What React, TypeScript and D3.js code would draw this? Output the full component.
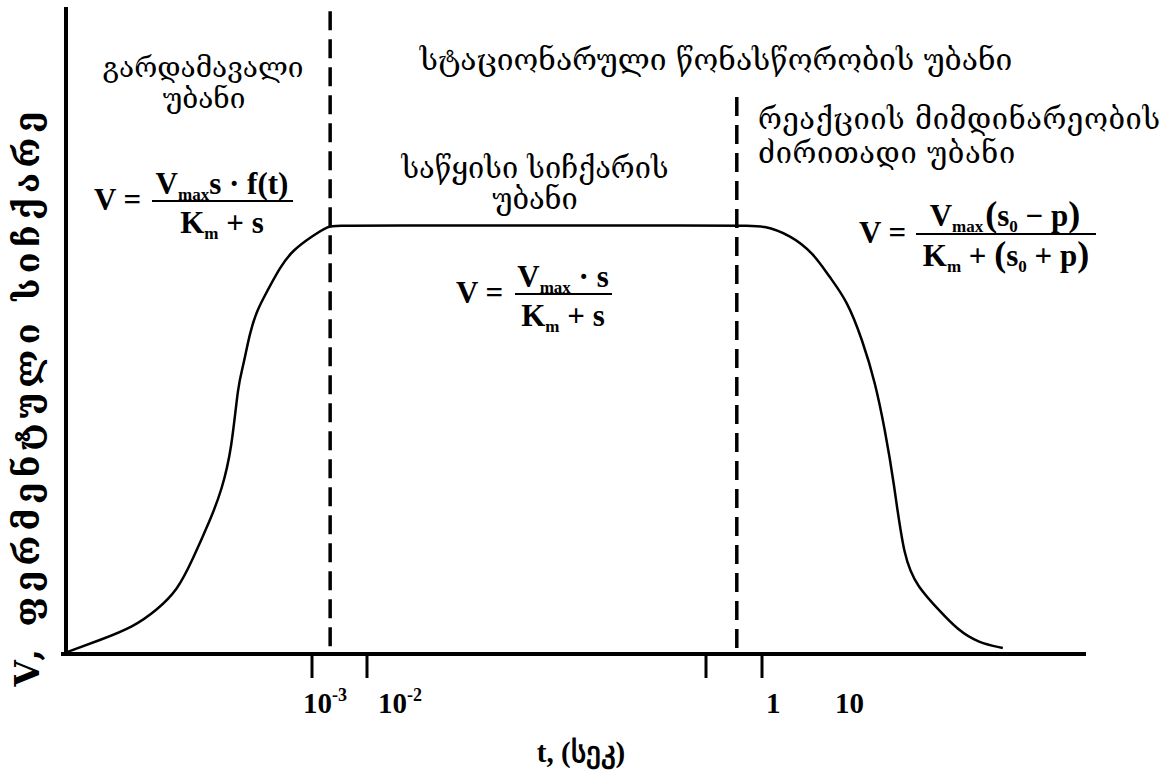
import React from "react";
import * as d3 from "d3";

// Reaction-rate curve: log10(t) against V / Vmax
const curveLogT = [
  -4.49, -4.29, -4.09, -3.945, -3.82, -3.73, -3.62, -3.55, -3.49, -3.45, -3.42,
  -3.38, -3.335, -3.27, -3.195, -3.116, -3.0, -2.69, -2.55, -0.3, 0.02, 0.44, 0.8,
  1.02, 1.12, 1.21, 1.285, 1.34, 1.39, 1.45, 1.53, 1.65, 1.76, 1.88, 2.02,
];
const curveRate = [
  0.005, 0.033, 0.063, 0.103, 0.149, 0.219, 0.313, 0.383, 0.476, 0.632, 0.67,
  0.749, 0.803, 0.849, 0.903, 0.943, 0.975, 1.0, 1.0, 1.0, 1.0, 0.978, 0.936,
  0.88, 0.826, 0.733, 0.632, 0.523, 0.406, 0.219, 0.156, 0.103, 0.056, 0.026, 0.014,
];

// Axis ticks (log10 t) and their labels
const tickExponents = [-3, -2, -1, 0];
const labelExponents = [-3, -2, 0, 1];
const labelBases = ["10", "10", "1", "10"];
const labelPowers = ["-3", "-2", "", ""];

// Region boundaries (log10 t) and the rate at which each dashed line starts
const boundaryLogT = [-2.67, -0.45];
const boundaryTop = [1.5, 1.3];

const W = 1162;
const H = 772;

const xScale = d3
  .scaleLinear()
  .domain([-4.5, -3, -2, -1, 0, 1, 2.5])
  .range([66, 312, 367, 706, 762, 826, 1086]);
const yScale = d3.scaleLinear().domain([0, 1.51]).range([654, 7]);

const geo = { fontFamily: "'DejaVu Serif', serif", fontSize: 29, fill: "#000" };
const math = {
  fontFamily: "'Liberation Serif', 'Times New Roman', serif",
  fontWeight: 700,
  fontSize: 31,
  fill: "#000",
};

function Sub({ children }: { children: React.ReactNode }) {
  return (
    <tspan fontSize={17} dy={6}>
      {children}
    </tspan>
  );
}

export default function App() {
  const pts: [number, number][] = curveLogT.map((t, i) => [t, curveRate[i]]);
  const line = d3
    .line<[number, number]>()
    .x((d) => xScale(d[0]))
    .y((d) => yScale(d[1]))
    .curve(d3.curveBasis);

  const y0 = yScale(0);
  // each label sits just right of its tick
  const labelShift = [-9, 11, 4, 9];

  return (
    <div style={{ position: "absolute", left: 0, top: 0 }}>
      <svg width={W} height={H} viewBox={`0 0 ${W} ${H}`} style={{ display: "block", background: "#fff" }}>
        {/* axes */}
        <line x1={xScale(-4.5)} y1={yScale(1.51)} x2={xScale(-4.5)} y2={y0 + 2} stroke="#000" strokeWidth={4} />
        <line x1={xScale(-4.5) - 5} y1={y0} x2={xScale(2.5)} y2={y0} stroke="#000" strokeWidth={4} />

        {tickExponents.map((e) => (
          <line key={e} x1={xScale(e)} x2={xScale(e)} y1={y0} y2={y0 + 24} stroke="#000" strokeWidth={3} />
        ))}
        {labelExponents.map((e, i) => (
          <text key={e} x={xScale(e) + labelShift[i]} y={713} {...math} fontSize={29}>
            {labelBases[i]}
            {labelPowers[i] && (
              <tspan fontSize={18} dy={-12}>
                {labelPowers[i]}
              </tspan>
            )}
          </text>
        ))}

        {/* region boundaries */}
        {boundaryLogT.map((t, i) => (
          <line
            key={t}
            x1={xScale(t)}
            x2={xScale(t)}
            y1={yScale(boundaryTop[i])}
            y2={y0}
            stroke="#000"
            strokeWidth={3.5}
            strokeDasharray="19 9"
          />
        ))}

        {/* rate curve */}
        <path d={line(pts) ?? ""} fill="none" stroke="#000" strokeWidth={2.5} />

        {/* axis titles */}
        <text x={581} y={762} textAnchor="middle" {...math} fontSize={29}>
          t, (სეკ)
        </text>
        <text
          transform="translate(39,399) rotate(-90)"
          textAnchor="middle"
          {...math}
          fontFamily="'DejaVu Serif', serif"
          fontSize={34}
          textLength={575}
          lengthAdjust="spacing"
        >
          V, ფერმენტული სიჩქარე
        </text>

        {/* region names */}
        <text x={203} y={77} textAnchor="middle" {...geo} fontSize={28}>გარდამავალი</text>
        <text x={204} y={108} textAnchor="middle" {...geo} fontSize={28}>უბანი</text>
        <text x={716} y={70} textAnchor="middle" {...geo} fontSize={30}>სტაციონარული წონასწორობის უბანი</text>
        <text x={535} y={178} textAnchor="middle" {...geo}>საწყისი სიჩქარის</text>
        <text x={535} y={209} textAnchor="middle" {...geo}>უბანი</text>
        <text x={758} y={129} {...geo} fontSize={29} letterSpacing={0.6}>რეაქციის მიმდინარეობის</text>
        <text x={758} y={163} {...geo} fontSize={29} letterSpacing={0.6}>ძირითადი უბანი</text>

        {/* transition-region formula */}
        <text x={94} y={210} {...math}>V =</text>
        <text x={222} y={194} textAnchor="middle" {...math}>
          V<Sub>max</Sub>
          <tspan dy={-6}>s · f(t)</tspan>
        </text>
        <line x1={152} x2={293} y1={201} y2={201} stroke="#000" strokeWidth={2} />
        <text x={222} y={233} textAnchor="middle" {...math}>
          K<Sub>m</Sub>
          <tspan dy={-6}> + s</tspan>
        </text>

        {/* initial-rate formula */}
        <text x={456} y={303} {...math}>V =</text>
        <text x={563} y={287} textAnchor="middle" {...math}>
          V<Sub>max</Sub>
          <tspan dy={-6}> · s</tspan>
        </text>
        <line x1={515} x2={612} y1={294} y2={294} stroke="#000" strokeWidth={2} />
        <text x={563} y={326} textAnchor="middle" {...math}>
          K<Sub>m</Sub>
          <tspan dy={-6}> + s</tspan>
        </text>

        {/* main-region formula */}
        <text x={859} y={243} {...math}>V =</text>
        <text x={1005} y={226} textAnchor="middle" {...math}>
          V<Sub>max</Sub>
          <tspan dy={-6} fontSize={36} dx={2}>(</tspan>
          <tspan>s</tspan>
          <Sub>0</Sub>
          <tspan dy={-6}> − p</tspan>
          <tspan fontSize={36}>)</tspan>
        </text>
        <line x1={916} x2={1096} y1={234} y2={234} stroke="#000" strokeWidth={2} />
        <text x={1006} y={266} textAnchor="middle" {...math}>
          K<Sub>m</Sub>
          <tspan dy={-6}> + </tspan>
          <tspan fontSize={36}>(</tspan>
          <tspan>s</tspan>
          <Sub>0</Sub>
          <tspan dy={-6}> + p</tspan>
          <tspan fontSize={36}>)</tspan>
        </text>
      </svg>
    </div>
  );
}
